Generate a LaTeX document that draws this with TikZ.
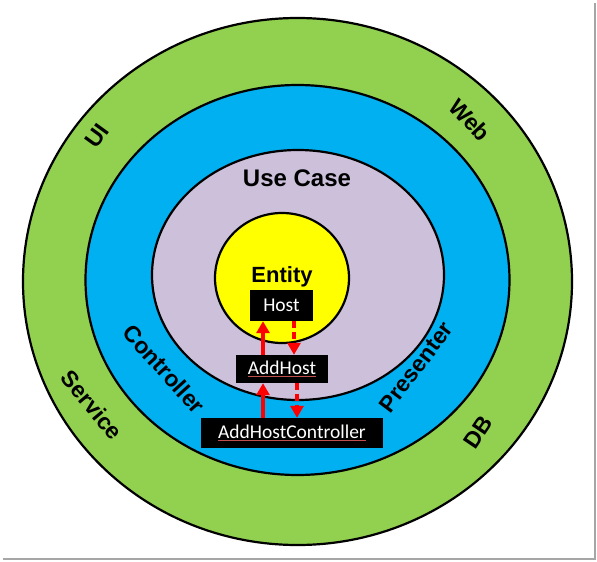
\documentclass[tikz,border=0pt]{standalone}
\usepackage{fontspec}
\setmainfont{Liberation Sans}
\newfontfamily\boxfont{Carlito}
\usetikzlibrary{arrows.meta}
\definecolor{ringgreen}{HTML}{92D050}
\definecolor{ringblue}{HTML}{00B0F0}
\definecolor{ringpurple}{HTML}{CCC0DA}
\definecolor{ringyellow}{HTML}{FFFF00}
\definecolor{ulred}{HTML}{C0504D}
\newcommand\redul[1]{\setbox0\hbox{#1}\rlap{\color{ulred}\rule[-2.5pt]{\wd0}{0.9pt}}\box0}
\tikzset{
  ring/.style={draw=black, line width=2.2pt},
  ringlabel/.style={font=\bfseries\fontsize{23}{25}\selectfont, inner sep=0pt},
  codebox/.style={fill=black, text=white, font=\boxfont\fontsize{19.5}{21}\selectfont, inner sep=0pt, minimum height=30pt},
  solidarr/.style={draw=red, line width=3.5pt, -{Triangle[length=12pt,width=13pt]}},
  dasharr/.style={draw=red, line width=3.5pt, dash pattern=on 7pt off 4pt, -{Triangle[length=12pt,width=13pt]}}
}
\begin{document}
\begin{tikzpicture}[x=1pt,y=-1pt]
\useasboundingbox (0,0) rectangle (597,562);
% frame shadow
\draw[gray!70, line width=2pt] (595,3) -- (595,559) -- (3,559);
% rings
\draw[ring, fill=ringgreen] (297.5,281.5) ellipse [x radius=274.5, y radius=263.5];
\draw[ring, fill=ringblue] (297.5,280) ellipse [x radius=212, y radius=195];
\draw[ring, fill=ringpurple] (298,275) ellipse [x radius=146, y radius=125];
\draw[ring, fill=ringyellow] (282,278) ellipse [x radius=67, y radius=65];
% labels
\node[ringlabel, rotate=54] (ui) at (97,136) {UI};
\node[ringlabel, rotate=-47] (web) at (470,120) {Web};
\node[ringlabel, rotate=-50] (service) at (92,405) {Service};
\node[ringlabel, rotate=56] (db) at (478,432) {DB};
\node[ringlabel, rotate=-48] (controller) at (164,369) {Controller};
\node[ringlabel, rotate=53] (presenter) at (416,367) {Presenter};
\node[font=\bfseries\fontsize{24}{26}\selectfont, inner sep=0pt] (usecase) at (297,178) {Use Case};
\node[font=\bfseries\fontsize{22}{24}\selectfont, inner sep=0pt] (entity) at (282,277) {Entity};
% boxes
\node[codebox, minimum width=63pt, minimum height=31pt] (host) at (281.5,305.5) {Host};
\node[codebox, minimum width=92pt, minimum height=28pt] (addhost) at (282,369) {\redul{AddHost}};
\node[codebox, minimum width=182pt, minimum height=30pt] (ahc) at (292,433) {\redul{AddHostController}};
% arrows
\draw[solidarr] (addhost.north -| 263,0) -- (host.south -| 263,0);
\draw[solidarr] (ahc.north -| 263,0) -- (addhost.south -| 263,0);
\draw[dasharr] (host.south -| 294,0) -- (addhost.north -| 294,0);
\draw[dasharr] (addhost.south -| 297,0) -- (ahc.north -| 297,0);
\end{tikzpicture}
\end{document}
